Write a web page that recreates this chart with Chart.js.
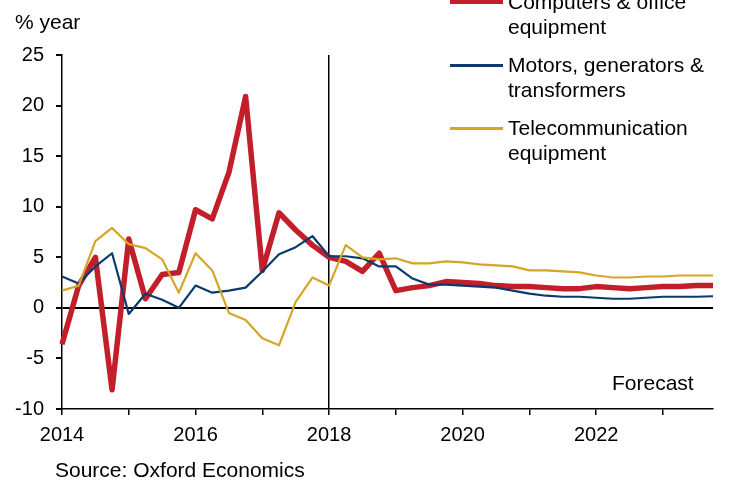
<!DOCTYPE html>
<html>
<head>
<meta charset="utf-8">
<script src="https://cdn.jsdelivr.net/npm/chart.js@4.4.1/dist/chart.umd.min.js"></script>
<style>
  html, body { margin: 0; padding: 0; background: #fff; }
  #wrap { position: relative; width: 730px; height: 480px; overflow: hidden; font-family: "Liberation Sans", Arial, sans-serif; color: #000; }
  canvas { position: absolute; left: 0; top: 0; }
  .txt { position: absolute; font-size: 21px; line-height: 24.5px; white-space: nowrap; }
  .key { position: absolute; left: 450px; width: 53px; }
</style>
</head>
<body>
<div id="wrap">
  <canvas id="chart" width="730" height="480"></canvas>
  <div class="txt" style="left:15px; top:10px;">% year</div>
  <div class="key" style="top:-2px; height:6px; background:#C21F2B;"></div>
  <div class="txt" style="left:508px; top:-10px;">Computers &amp; office<br>equipment</div>
  <div class="key" style="top:64px; height:2.5px; background:#0A3A6E;"></div>
  <div class="txt" style="left:508px; top:53px;">Motors, generators &amp;<br>transformers</div>
  <div class="key" style="top:127px; height:2.5px; background:#D7A525;"></div>
  <div class="txt" style="left:508px; top:116px;">Telecommunication<br>equipment</div>
  <div class="txt" style="left:612px; top:371px;">Forecast</div>
  <div class="txt" style="left:55px; top:458px;">Source: Oxford Economics</div>
</div>
<script>
// quarterly, 2014Q1 .. 2023Q4
const quarters = [];
for (let y = 2014; y <= 2023; y++) {
  for (let q = 1; q <= 4; q++) quarters.push(y + 'Q' + q);
}

const computers = [-3.6, 2.2, 5.0, -8.1, 6.8, 0.9, 3.3, 3.5, 9.7, 8.8, 13.4, 20.9, 3.7, 9.4, 7.7, 6.2,
  5.0, 4.6, 3.6, 5.4, 1.7, 2.0, 2.2, 2.6, 2.5, 2.4, 2.2, 2.1, 2.1, 2.0, 1.9, 1.9,
  2.1, 2.0, 1.9, 2.0, 2.1, 2.1, 2.2, 2.2];
const motors = [3.1, 2.4, 4.1, 5.4, -0.6, 1.4, 0.8, 0.0, 2.2, 1.5, 1.7, 2.0, 3.6, 5.3, 6.0, 7.1,
  5.1, 5.1, 4.9, 4.1, 4.1, 2.9, 2.3, 2.3, 2.2, 2.1, 2.0, 1.7, 1.4, 1.2, 1.1, 1.1,
  1.0, 0.9, 0.9, 1.0, 1.1, 1.1, 1.1, 1.15];
const telecom = [1.7, 2.2, 6.6, 7.9, 6.3, 5.9, 4.8, 1.5, 5.4, 3.7, -0.5, -1.2, -3.0, -3.7, 0.6, 3.0,
  2.2, 6.2, 5.0, 4.8, 4.9, 4.4, 4.4, 4.6, 4.5, 4.3, 4.2, 4.1, 3.7, 3.7, 3.6, 3.5,
  3.2, 3.0, 3.0, 3.1, 3.1, 3.2, 3.2, 3.2];

const yTicks = [-10, -5, 0, 5, 10, 15, 20, 25];
const forecastStart = '2018Q1';

const font = { family: '"Liberation Sans", Arial, sans-serif', size: 20 };

new Chart(document.getElementById('chart'), {
  type: 'line',
  data: {
    labels: quarters,
    datasets: [
      { label: 'Computers & office equipment', data: computers, borderColor: '#C21F2B', borderWidth: 5.5, order: 3 },
      { label: 'Motors, generators & transformers', data: motors, borderColor: '#0A3A6E', borderWidth: 2.2, order: 2 },
      { label: 'Telecommunication equipment', data: telecom, borderColor: '#D7A525', borderWidth: 2.2, order: 1 }
    ]
  },
  options: {
    responsive: false,
    animation: false,
    layout: { padding: { top: 55, right: 17, left: 0, bottom: 0 } },
    elements: { point: { radius: 0 }, line: { tension: 0, borderJoinStyle: 'round', borderCapStyle: 'butt' } },
    plugins: { legend: { display: false }, tooltip: { enabled: false } },
    scales: {
      x: {
        offset: false,
        afterFit: s => { s.height = 71; },
        border: { color: '#000', width: 1.5 },
        grid: {
          drawOnChartArea: true,
          tickLength: 6,
          lineWidth: 1.5,
          color: c => quarters[c.index] === forecastStart ? '#000' : 'rgba(0,0,0,0)',
          tickColor: c => c.index % 4 === 0 ? '#000' : 'rgba(0,0,0,0)'
        },
        ticks: {
          autoSkip: false,
          maxRotation: 0,
          padding: 8,
          color: '#000',
          font: font,
          callback: (v, i) => (i % 8 === 0 ? quarters[i].slice(0, 4) : '')
        }
      },
      y: {
        min: yTicks[0],
        max: yTicks[yTicks.length - 1],
        afterFit: s => { s.width = 62; },
        afterBuildTicks: s => { s.ticks = yTicks.map(v => ({ value: v })); },
        border: { color: '#000', width: 1.5 },
        grid: {
          tickLength: 6,
          lineWidth: 2,
          color: c => c.tick && c.tick.value === 0 ? '#000' : 'rgba(0,0,0,0)',
          tickColor: '#000'
        },
        ticks: { padding: 12, color: '#000', font: font }
      }
    }
  }
});
</script>
</body>
</html>
